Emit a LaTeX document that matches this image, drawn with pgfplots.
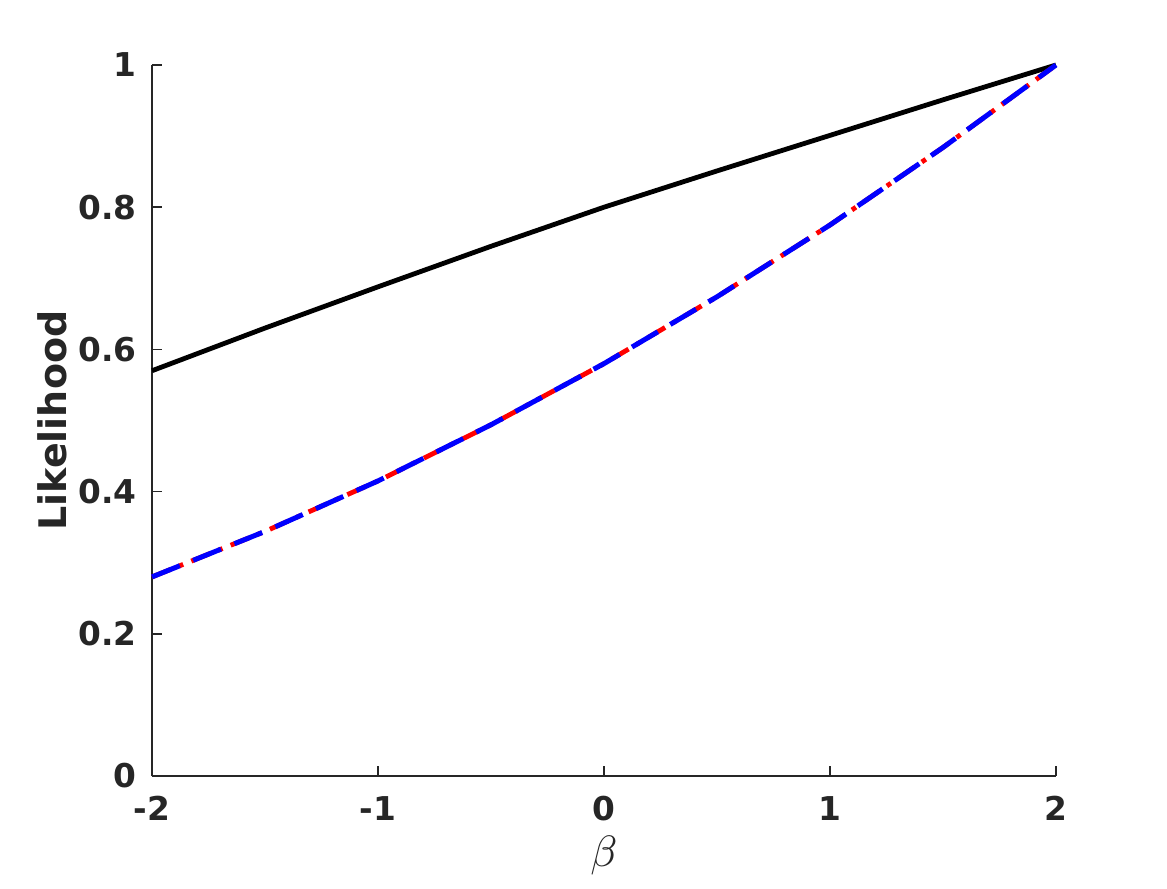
\documentclass[border=0pt]{standalone}
\usepackage{fontspec}
\setmainfont{DejaVu Sans}
\usepackage{pgfplots}
\pgfplotsset{compat=1.18}
\definecolor{axgray}{HTML}{262626}
\newcommand{\ticklab}{\fontsize{8.2}{9}\selectfont\bfseries}
\newcommand{\axlab}{\fontsize{9.5}{10}\selectfont\bfseries}

\begin{document}
\begin{tikzpicture}
\begin{axis}[
  at={(0,0)}, anchor=south west,
  scale only axis,
  width=226pt, height=177.75pt,
  xmin=-2, xmax=2, ymin=0, ymax=1,
  axis x line=bottom, axis y line=left,
  axis line style={axgray, line width=0.4pt, -},
  xtick={-2,-1,0,1,2},
  ytick={0,0.2,0.4,0.6,0.8,1},
  yticklabels={0,0.2,0.4,0.6,0.8,1},
  xticklabels={-2,-1,0,1,2},
  tick align=inside,
  major tick length=2.4pt,
  tick style={axgray, line width=0.4pt},
  tick label style={font=\ticklab, text=axgray},
  xticklabel style={yshift=-1.5pt},
  yticklabel style={xshift=-0.3pt},
  xlabel={$\beta$},
  ylabel={Likelihood},
  xlabel style={font=\fontsize{10.5}{11}\selectfont, text=axgray, at={(axis description cs:0.5,0)}, anchor=center, yshift=-20pt},
  ylabel style={font=\axlab, text=axgray, at={(axis description cs:0,0.5)}, anchor=center, yshift=25pt},
  clip=false,
]
\addplot[black, line width=1.2pt] coordinates {
  (-2,0.570) (-1.5,0.630) (-1,0.688) (-0.5,0.745) (0,0.800) (0.5,0.851) (1,0.901) (1.5,0.951) (2,1.000)
};
\addplot[red, line width=1.2pt, dash pattern=on 5pt off 2.2pt on 1.2pt off 2.2pt] coordinates {
  (-2,0.280) (-1.5,0.344) (-1,0.415) (-0.5,0.494) (0,0.580) (0.5,0.674) (1,0.775) (1.5,0.884) (2,1.000)
};
\addplot[blue, line width=1.25pt, dash pattern=on 7.5pt off 3.6pt] coordinates {
  (-2,0.280) (-1.5,0.344) (-1,0.415) (-0.5,0.494) (0,0.580) (0.5,0.674) (1,0.775) (1.5,0.884) (2,1.000)
};
\end{axis}
\path[use as bounding box] (-38pt,-24.75pt) rectangle (253.75pt,194pt);
\end{tikzpicture}
\end{document}
